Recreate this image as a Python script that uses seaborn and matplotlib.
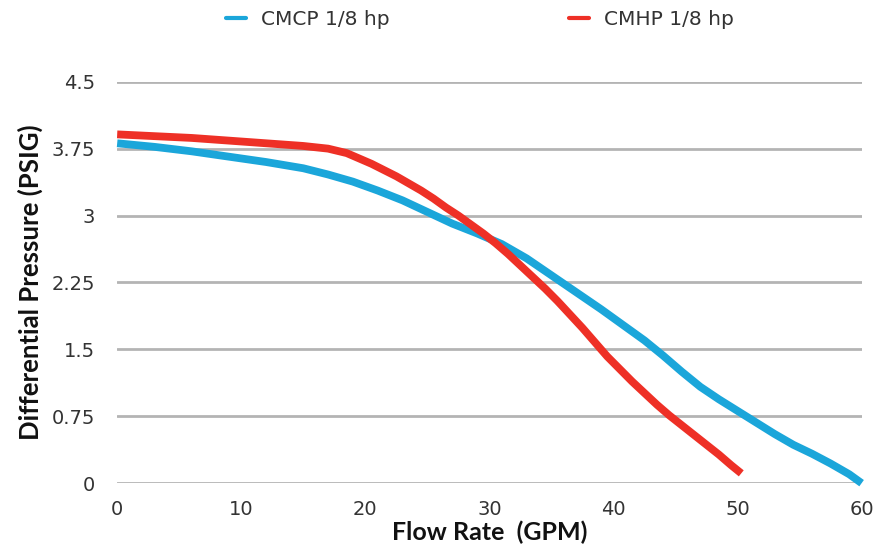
import matplotlib
matplotlib.use("Agg")
import matplotlib.pyplot as plt
import seaborn as sns
import pandas as pd

# values
cmcp_flow = [0, 3, 6, 9, 12, 15, 17, 19, 21, 23, 25, 27, 29, 31, 33, 35, 37, 39, 41,
             42.5, 44, 45.5, 47, 48.5, 50, 51.5, 53, 54.5, 56, 57.5, 59, 60]
cmcp_psi = [3.81, 3.77, 3.72, 3.66, 3.6, 3.53, 3.46, 3.38, 3.28, 3.17, 3.04, 2.91, 2.8, 2.68,
            2.52, 2.33, 2.14, 1.95, 1.75, 1.6, 1.43, 1.25, 1.08, 0.94, 0.81, 0.68, 0.55,
            0.43, 0.33, 0.22, 0.1, 0.0]

cmhp_flow = [0, 3, 6, 9, 12, 15, 17, 18.5, 19.5, 20.5, 21.5, 22.5, 23.5, 24.5, 25.5, 26.5,
             27.5, 28.5, 29.5, 30.5, 31.5, 32.5, 33.5, 34.5, 35.5, 36.5, 37.5, 38.5, 39.5,
             40.5, 41.5, 42.5, 43.5, 44.5, 45.5, 46.5, 47.5, 48.5, 49.5, 50.3]
cmhp_psi = [3.91, 3.89, 3.87, 3.84, 3.81, 3.78, 3.75, 3.7, 3.64, 3.58, 3.51, 3.44, 3.36,
            3.28, 3.19, 3.09, 3.0, 2.9, 2.8, 2.69, 2.57, 2.44, 2.31, 2.18, 2.04, 1.89,
            1.74, 1.58, 1.42, 1.28, 1.14, 1.01, 0.88, 0.76, 0.65, 0.54, 0.43, 0.32, 0.2, 0.11]

series_names = ["CMCP 1/8 hp", "CMHP 1/8 hp"]
colors = ["#1BA6DA", "#EE3026"]

x_ticks = [0, 10, 20, 30, 40, 50, 60]
y_ticks = [0, 0.75, 1.5, 2.25, 3, 3.75, 4.5]
y_labels = ["0", "0.75", "1.5", "2.25", "3", "3.75", "4.5"]

df = pd.concat([
    pd.DataFrame({"flow": cmcp_flow, "psi": cmcp_psi, "pump": series_names[0]}),
    pd.DataFrame({"flow": cmhp_flow, "psi": cmhp_psi, "pump": series_names[1]}),
])

sns.set_style("white")
plt.rcParams['font.family'] = ['DejaVu Sans']

fig = plt.figure(figsize=(8.81, 5.56), dpi=100)
ax = fig.add_axes([0.133, 0.131, 0.845, 0.722])

sns.lineplot(data=df, x="flow", y="psi", hue="pump", palette=colors,
             linewidth=5.6, ax=ax, legend=False, sort=False)
for ln in ax.lines:
    ln.set_clip_on(False)
    ln.set_solid_capstyle("butt")
    ln.set_solid_joinstyle("round")
    ln.set_zorder(3)

ax.set_xlim(0, 60)
ax.set_ylim(0, 4.5)
ax.set_xticks(x_ticks)
ax.set_yticks(y_ticks)
ax.set_yticklabels(y_labels)
ax.yaxis.grid(True, color="#B4B4B4", linewidth=2)
ax.set_axisbelow(True)
for s in ax.spines.values():
    s.set_visible(False)
ax.tick_params(axis="both", length=0, labelsize=14, colors="#333333")
ax.tick_params(axis="x", pad=12)
ax.tick_params(axis="y", pad=16)

ax.set_xlabel("Flow Rate  (GPM)", fontsize=18, fontweight="bold",
              family=["Lato", "DejaVu Sans"], labelpad=1, color="#111111")
ax.set_ylabel("Differential Pressure (PSIG)", fontsize=18.5, fontweight="bold",
              family=["Lato", "DejaVu Sans"], labelpad=6, color="#111111")

handles = [plt.Line2D([], [], color=c, linewidth=3) for c in colors]
fig.legend(handles, series_names, loc="upper center", bbox_to_anchor=(0.545, 1.015),
           ncol=2, frameon=False, handlelength=1.0, handletextpad=0.75,
           columnspacing=8.9, fontsize=14.5, labelcolor="#333333")

fig.savefig("out.png", dpi=100)
